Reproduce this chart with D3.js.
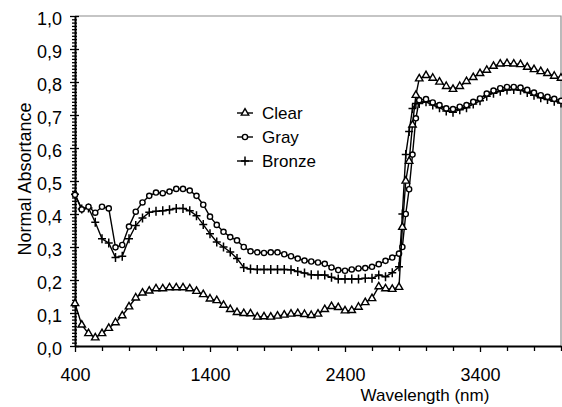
<!DOCTYPE html>
<head>
    <meta charset="utf-8">
    <title>Normal absortance</title>
    <style>
        body { margin: 0; background: #fff; }
        text { font-family: "Liberation Sans", Arial, sans-serif; fill: #000; }
    </style>
</head>
<body>

<script src="https://d3js.org/d3.v7.min.js"></script>

<script>
// wavelengths (nm) shared by the three series
let wavelengths = [400, 450, 500, 550, 600, 650, 700, 750, 800, 850, 900, 950, 1000, 1050, 1100, 1150,
    1200, 1250, 1300, 1350, 1400, 1450, 1500, 1550, 1600, 1650, 1700, 1750, 1800, 1850, 1900, 1950,
    2000, 2050, 2100, 2150, 2200, 2250, 2300, 2350, 2400, 2450, 2500, 2550, 2600, 2650, 2700, 2750,
    2800, 2825, 2850, 2875, 2900, 2925, 2950, 3000, 3050, 3100, 3150, 3200, 3250, 3300, 3350, 3400,
    3450, 3500, 3550, 3600, 3650, 3700, 3750, 3800, 3850, 3900, 3950, 4000];

let clear = [0.129, 0.064, 0.038, 0.025, 0.038, 0.054, 0.071, 0.092, 0.119, 0.146, 0.161, 0.167, 0.174, 0.174, 0.177, 0.177,
    0.177, 0.174, 0.166, 0.156, 0.143, 0.138, 0.124, 0.111, 0.102, 0.099, 0.098, 0.088, 0.089, 0.088, 0.091, 0.094,
    0.097, 0.099, 0.096, 0.093, 0.097, 0.111, 0.120, 0.117, 0.107, 0.108, 0.118, 0.132, 0.144, 0.180, 0.174, 0.172,
    0.178, 0.360, 0.500, 0.560, 0.670, 0.760, 0.810, 0.820, 0.812, 0.800, 0.787, 0.778, 0.787, 0.802, 0.814, 0.826,
    0.836, 0.848, 0.855, 0.856, 0.855, 0.853, 0.845, 0.838, 0.832, 0.826, 0.818, 0.812];

let gray = [0.458, 0.414, 0.422, 0.404, 0.422, 0.417, 0.299, 0.306, 0.362, 0.407, 0.435, 0.455, 0.465, 0.463, 0.468, 0.476,
    0.476, 0.471, 0.455, 0.428, 0.392, 0.367, 0.346, 0.330, 0.320, 0.300, 0.287, 0.284, 0.282, 0.284, 0.284, 0.278,
    0.272, 0.265, 0.259, 0.256, 0.253, 0.249, 0.238, 0.230, 0.228, 0.232, 0.235, 0.236, 0.240, 0.248, 0.258, 0.268,
    0.280, 0.300, 0.400, 0.475, 0.580, 0.690, 0.745, 0.748, 0.738, 0.730, 0.720, 0.718, 0.725, 0.730, 0.740, 0.750,
    0.765, 0.774, 0.781, 0.785, 0.785, 0.783, 0.776, 0.768, 0.760, 0.755, 0.749, 0.743];

let bronze = [0.460, 0.415, 0.418, 0.375, 0.325, 0.312, 0.268, 0.272, 0.325, 0.365, 0.388, 0.405, 0.408, 0.410, 0.413, 0.417,
    0.417, 0.410, 0.395, 0.368, 0.340, 0.315, 0.300, 0.285, 0.265, 0.238, 0.233, 0.232, 0.232, 0.232, 0.232, 0.232,
    0.231, 0.226, 0.221, 0.216, 0.215, 0.215, 0.208, 0.203, 0.203, 0.203, 0.203, 0.205, 0.205, 0.215, 0.210, 0.222,
    0.240, 0.400, 0.580, 0.650, 0.720, 0.735, 0.735, 0.740, 0.730, 0.722, 0.712, 0.708, 0.716, 0.722, 0.733, 0.743,
    0.757, 0.766, 0.772, 0.776, 0.777, 0.775, 0.768, 0.760, 0.752, 0.747, 0.742, 0.736];

let seriesNames = ["Clear", "Gray", "Bronze"];
let seriesValues = [clear, gray, bronze];

let xMajorTicks = [400, 1400, 2400, 3400];
let xMinorTicks = [600, 800, 1000, 1200, 1600, 1800, 2000, 2200, 2600, 2800, 3000, 3200, 3600, 3800, 4000];
let yMajorTicks = [0, 0.1, 0.2, 0.3, 0.4, 0.5, 0.6, 0.7, 0.8, 0.9, 1.0];
let yMinorTicks = d3.range(0, 101).map(d => d / 100).filter(d => Math.round(d * 100) % 10 !== 0);

let width = 562;
let height = 407;

let svg = d3.select("body").append("svg")
    .attr("width", width)
    .attr("height", height);

let x = d3.scaleLinear().domain([400, 4000]).range([75, 561]);
let y = d3.scaleLinear().domain([0, 1]).range([346, 16]);

let commaFormat = d3.formatLocale({decimal: ",", thousands: ".", grouping: [3], currency: ["", ""]}).format(".1f");

// top and right frame
svg.append("path")
    .attr("d", `M${x(400)},${y(1)}H${x(4000)}V${y(0)}`)
    .attr("fill", "none")
    .attr("stroke", "#8c8c8c")
    .attr("stroke-width", 1.2);

// y axis: major and minor ticks crossing the axis line
let yAxisG = svg.append("g").attr("transform", `translate(${x(400)},0)`);
yAxisG.append("g")
    .call(d3.axisLeft(y).tickValues(yMinorTicks).tickSize(3).tickFormat(""))
    .call(g => g.select(".domain").remove());
yAxisG.append("g")
    .call(d3.axisRight(y).tickValues(yMinorTicks).tickSize(2).tickFormat(""))
    .call(g => g.select(".domain").remove());
yAxisG.append("g")
    .call(d3.axisRight(y).tickValues(yMajorTicks).tickSize(4).tickFormat(""))
    .call(g => g.select(".domain").remove());
yAxisG.append("g")
    .call(d3.axisLeft(y).tickValues(yMajorTicks).tickSize(5).tickSizeOuter(0).tickPadding(8).tickFormat(commaFormat))
    .call(g => g.selectAll("text").attr("dy", "0.48em").style("font-size", "18px").style("font-family", null));
yAxisG.selectAll("line").attr("stroke", "#000").attr("stroke-width", 1.3);
yAxisG.selectAll(".domain").attr("stroke", "#000").attr("stroke-width", 2);

// x axis
let xAxisG = svg.append("g").attr("transform", `translate(0,${y(0)})`);
xAxisG.append("g")
    .call(d3.axisBottom(x).tickValues(xMinorTicks).tickSize(5).tickFormat(""))
    .call(g => g.select(".domain").remove());
xAxisG.append("g")
    .call(d3.axisBottom(x).tickValues(xMajorTicks).tickSize(6).tickSizeOuter(0).tickPadding(16).tickFormat(d3.format("d")))
    .call(g => g.selectAll("text").style("font-size", "18px").style("font-family", null));
xAxisG.selectAll("line").attr("stroke", "#000").attr("stroke-width", 1.3);
xAxisG.selectAll(".domain").attr("stroke", "#000").attr("stroke-width", 2);

// axis titles
svg.append("text")
    .attr("transform", `translate(31,179) rotate(-90)`)
    .attr("text-anchor", "middle")
    .style("font-size", "18px")
    .text("Normal Absortance");

svg.append("text")
    .attr("x", 425)
    .attr("y", 401)
    .attr("text-anchor", "middle")
    .style("font-size", "17px")
    .text("Wavelength (nm)");

// marker shapes
let triangle = d3.symbol(d3.symbolTriangle, 24)();
let plus = "M-4,0H4M0,-4.5V4.5";

function drawMarker(g, i) {
    if (i === 0) {
        g.append("path").attr("d", triangle).attr("fill", "#fff").attr("stroke", "#000").attr("stroke-width", 1.4);
    } else if (i === 1) {
        g.append("circle").attr("r", 2.6).attr("fill", "#fff").attr("stroke", "#000").attr("stroke-width", 1.4);
    } else {
        g.append("path").attr("d", plus).attr("fill", "none").attr("stroke", "#000").attr("stroke-width", 1.5);
    }
}

let line = d3.line()
    .x(d => x(d[0]))
    .y(d => y(d[1]));

// draw series, back to front
[2, 1, 0].forEach(function (i) {
    let pts = wavelengths.map((w, j) => [w, seriesValues[i][j]]);
    svg.append("path")
        .datum(pts)
        .attr("d", line)
        .attr("fill", "none")
        .attr("stroke", "#000")
        .attr("stroke-width", 1.4);

    svg.append("g").selectAll("g")
        .data(pts)
        .join("g")
        .attr("transform", d => `translate(${x(d[0])},${y(d[1])})`)
        .each(function () { drawMarker(d3.select(this), i); });
});

// legend
let legend = svg.append("g").attr("transform", "translate(237,113)");
seriesNames.forEach(function (name, i) {
    let item = legend.append("g").attr("transform", `translate(0,${i * 24})`);
    item.append("line")
        .attr("x1", 0).attr("x2", 16)
        .attr("stroke", "#000").attr("stroke-width", 1.4);
    let m = item.append("g").attr("transform", "translate(8,0)");
    drawMarker(m, i);
    item.append("text")
        .attr("x", 25)
        .attr("dy", "0.36em")
        .style("font-size", "17px")
        .text(name);
});
</script>

</body>
